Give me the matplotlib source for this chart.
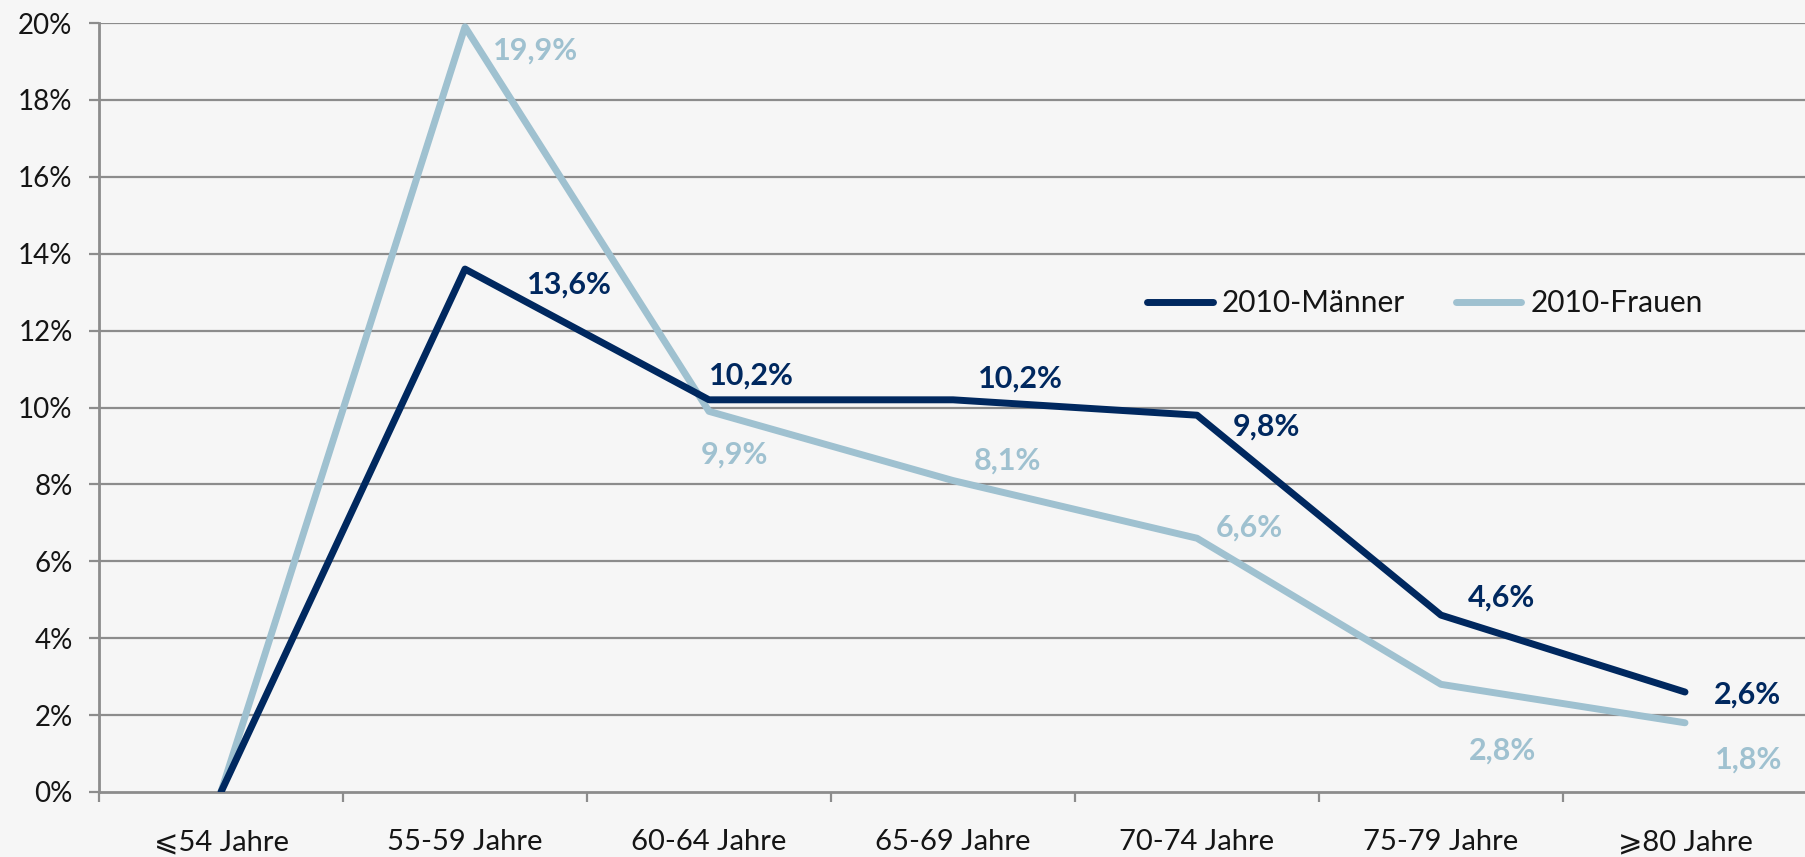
import matplotlib
matplotlib.use("Agg")
import matplotlib.pyplot as plt
import numpy as np

categories = ["⩽54 Jahre", "55-59 Jahre", "60-64 Jahre", "65-69 Jahre",
              "70-74 Jahre", "75-79 Jahre", "⩾80 Jahre"]
maenner = [0.0, 13.6, 10.2, 10.2, 9.8, 4.6, 2.6]
frauen = [0.0, 19.9, 9.9, 8.1, 6.6, 2.8, 1.8]
y_ticks = [0, 2, 4, 6, 8, 10, 12, 14, 16, 18, 20]

# label offsets in pixels (dx, dy; dy positive = up) relative to data points
m_off = [None, (104, -16), (42, 24), (67, 21), (69, -11), (60, 18), (62, -3)]
f_off = [None, (71, -24), (25, -43), (54, 20), (52, 11), (61, -66), (64, -37)]

FONT = ["Lato", "DejaVu Sans"]
plt.rcParams["font.family"] = FONT

c_m = "#00285f"
c_f = "#9fc1d0"
grid_c = "#8c8c8c"
bg = "#f6f6f6"
txt_c = "#151515"

W, H = 1805, 857
fig = plt.figure(figsize=(W / 100, H / 100), dpi=100, facecolor=bg)
left_px, right_px = 99, 99 + 7 * 244
bot_px, top_px = 792, 23
ax = fig.add_axes([left_px / W, 1 - bot_px / H, (right_px - left_px) / W, (bot_px - top_px) / H])
ax.set_facecolor(bg)

x = np.arange(len(categories))
ax.set_xlim(-0.5, len(categories) - 0.5)
ax.set_ylim(0, 20)

for yv in y_ticks[1:]:
    ax.axhline(yv, color=grid_c, lw=1.6, zorder=1)

ln_m, = ax.plot(x, maenner, color=c_m, lw=5, solid_capstyle="round", solid_joinstyle="round", zorder=3, label="2010-Männer")
ln_f, = ax.plot(x, frauen, color=c_f, lw=5, solid_capstyle="round", solid_joinstyle="round", zorder=2, label="2010-Frauen")

def fmt(v):
    return f"{v:.1f}%".replace(".", ",")

for i in range(1, len(categories)):
    dx, dy = m_off[i]
    ax.annotate(fmt(maenner[i]), (x[i], maenner[i]), xytext=(dx, dy), textcoords="offset pixels",
                ha="center", va="center", fontsize=22, fontweight="bold", color=c_m, zorder=5)
    dx, dy = f_off[i]
    ax.annotate(fmt(frauen[i]), (x[i], frauen[i]), xytext=(dx, dy), textcoords="offset pixels",
                ha="center", va="center", fontsize=22, fontweight="bold", color=c_f, zorder=5)

for s in ["top", "right"]:
    ax.spines[s].set_visible(False)
for s in ["left", "bottom"]:
    ax.spines[s].set_color(grid_c)
    ax.spines[s].set_linewidth(2)

ax.set_yticks(y_ticks)
ax.set_yticklabels([f"{v}%" for v in y_ticks])
ax.tick_params(axis="y", length=7, width=1.6, color=grid_c, pad=12, labelsize=20, labelcolor=txt_c)

ax.set_xticks(np.arange(len(categories) + 1) - 0.5)
ax.set_xticklabels([])
ax.tick_params(axis="x", which="major", length=7, width=1.6, color=grid_c)
ax.set_xticks(x, minor=True)
ax.set_xticklabels(categories, minor=True)
ax.tick_params(axis="x", which="minor", length=0, pad=27, labelsize=21, labelcolor=txt_c)

leg = ax.legend(handles=[ln_m, ln_f], loc="center left",
                bbox_to_anchor=((1147 - left_px) / (right_px - left_px), (bot_px - 303) / (bot_px - top_px)),
                ncol=2, frameon=False, fontsize=21.5, handlelength=2.2, handletextpad=0.3,
                columnspacing=1.7, borderaxespad=0, borderpad=0)
for t in leg.get_texts():
    t.set_color(txt_c)

fig.savefig("out.png", dpi=100, facecolor=bg)
